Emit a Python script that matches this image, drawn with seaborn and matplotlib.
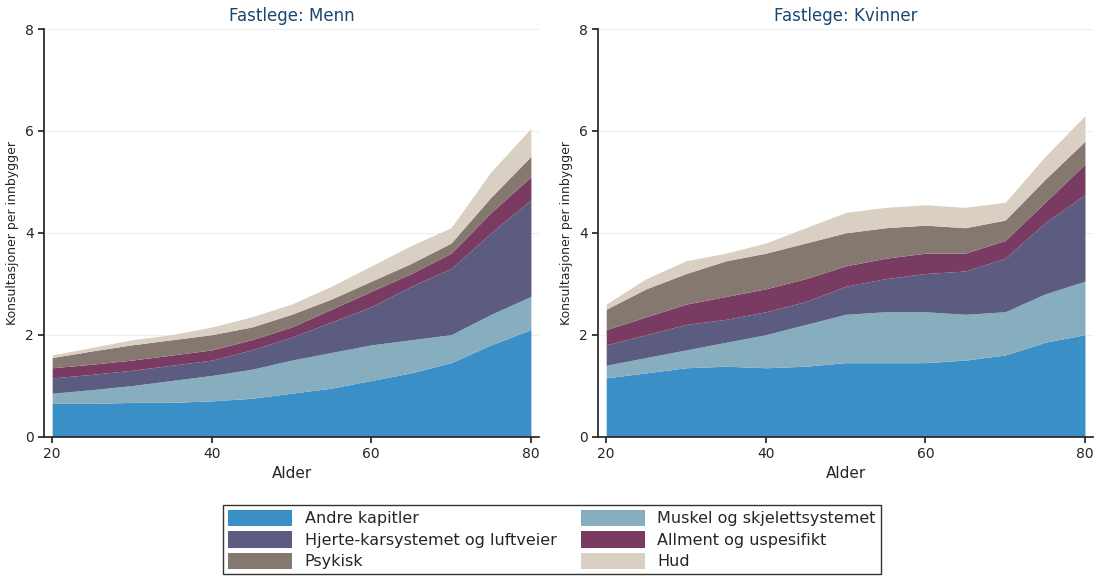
import numpy as np
import matplotlib
matplotlib.use("Agg")
import matplotlib.pyplot as plt
import seaborn as sns

ages = [20, 25, 30, 35, 40, 45, 50, 55, 60, 65, 70, 75, 80]
labels = ["Andre kapitler", "Muskel og skjelettsystemet", "Hjerte-karsystemet og luftveier",
          "Allment og uspesifikt", "Psykisk", "Hud"]
colors = ["#3a8fc6", "#86aebf", "#5c5c80", "#7a3b62", "#857871", "#d9cfc3"]

# cumulative tops of each layer
menn_tops = [
    [.65, .65, .67, .67, .7, .75, .85, .95, 1.1, 1.25, 1.45, 1.8, 2.1],
    [.85, .92, 1.0, 1.1, 1.2, 1.32, 1.5, 1.65, 1.8, 1.9, 2.0, 2.4, 2.75],
    [1.15, 1.22, 1.3, 1.4, 1.5, 1.7, 1.95, 2.25, 2.55, 2.95, 3.3, 4.0, 4.65],
    [1.35, 1.42, 1.5, 1.6, 1.7, 1.9, 2.15, 2.5, 2.85, 3.2, 3.6, 4.4, 5.1],
    [1.55, 1.68, 1.8, 1.9, 2.0, 2.15, 2.4, 2.7, 3.05, 3.4, 3.8, 4.7, 5.5],
    [1.6, 1.75, 1.9, 2.0, 2.15, 2.35, 2.6, 2.95, 3.35, 3.75, 4.1, 5.2, 6.05],
]
kvinner_tops = [
    [1.15, 1.25, 1.35, 1.38, 1.35, 1.38, 1.45, 1.45, 1.45, 1.5, 1.6, 1.85, 2.0],
    [1.4, 1.55, 1.7, 1.85, 2.0, 2.2, 2.4, 2.45, 2.45, 2.4, 2.45, 2.8, 3.05],
    [1.8, 2.0, 2.2, 2.3, 2.45, 2.65, 2.95, 3.1, 3.2, 3.25, 3.5, 4.2, 4.75],
    [2.1, 2.35, 2.6, 2.75, 2.9, 3.1, 3.35, 3.5, 3.6, 3.6, 3.85, 4.6, 5.35],
    [2.5, 2.9, 3.2, 3.45, 3.6, 3.8, 4.0, 4.1, 4.15, 4.1, 4.25, 5.05, 5.8],
    [2.6, 3.1, 3.45, 3.6, 3.8, 4.1, 4.4, 4.5, 4.55, 4.5, 4.6, 5.5, 6.3],
]

sns.set_theme(style="white")
plt.rcParams['font.family'] = ['DejaVu Sans']
fig, axes = plt.subplots(1, 2, figsize=(11.04, 5.82), dpi=100)

for ax, tops, title in zip(axes, [menn_tops, kvinner_tops], ["Fastlege: Menn", "Fastlege: Kvinner"]):
    tops = np.array(tops)
    layers = np.diff(np.vstack([np.zeros(len(ages)), tops]), axis=0)
    ax.stackplot(ages, layers, colors=colors, labels=labels, linewidth=0)
    ax.set_ylim(0, 8)
    ax.set_xlim(19, 81)
    ax.set_xticks([20, 40, 60, 80])
    ax.set_yticks([0, 2, 4, 6, 8])
    ax.yaxis.grid(True, color="#eeeeee", linewidth=0.8)
    ax.set_axisbelow(True)
    ax.set_title(title, fontsize=12, color="#1a476f")
    ax.set_xlabel("Alder", fontsize=11)
    ax.set_ylabel("Konsultasjoner per innbygger", fontsize=9)
    ax.tick_params(axis="both", labelsize=10, length=4, left=True, bottom=True)
    sns.despine(ax=ax)

handles, labs = axes[0].get_legend_handles_labels()
order = [0, 2, 4, 1, 3, 5]
fig.legend([handles[i] for i in order], [labs[i] for i in order], loc="lower center", ncol=2,
           fontsize=11.5, frameon=True, fancybox=False, edgecolor="black",
           handlelength=4, handleheight=1.2, columnspacing=1.5, borderpad=0.3,
           labelspacing=0.3, bbox_to_anchor=(0.5, 0.0))
fig.subplots_adjust(left=0.04, right=0.99, top=0.95, bottom=0.25, wspace=0.12)
fig.savefig("out.png")
